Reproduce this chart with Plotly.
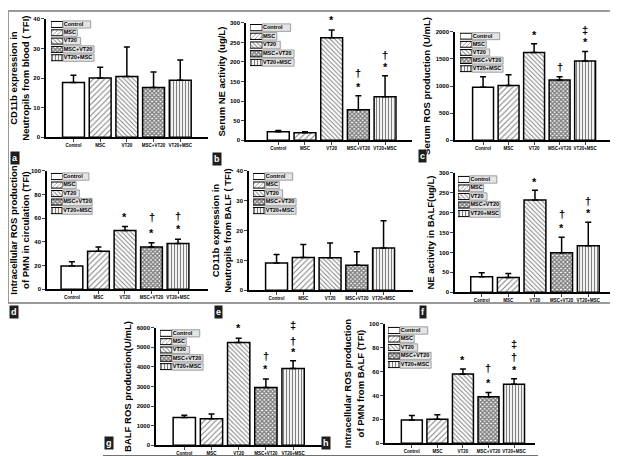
import plotly.graph_objects as go

W, H = 618, 456

categories = ["Control", "MSC", "VT20", "MSC+VT20", "VT20+MSC"]

# panel a: CD11b expression, blood
a_mean = [18.5, 20.0, 20.5, 16.8, 19.3]
a_err = [2.5, 3.7, 10.0, 5.3, 6.8]
a_ticks = [0, 10, 20, 30, 40]
a_sig_x, a_sig_y, a_sig_t = [], [], []

# panel b: serum NE activity
b_mean = [22, 19, 262, 78, 111]
b_err = [3, 3, 20, 36, 54]
b_ticks = [0, 50, 100, 150, 200, 250, 300]
b_sig_x = ["VT20", "MSC+VT20", "MSC+VT20", "VT20+MSC", "VT20+MSC"]
b_sig_y = [306, 137, 173, 186, 218]
b_sig_t = ["*", "*", "†", "*", "†"]

# panel c: serum ROS production
c_mean = [975, 1010, 1615, 1110, 1460]
c_err = [195, 195, 165, 60, 175]
c_ticks = [0, 500, 1000, 1500, 2000]
c_sig_x = ["VT20", "MSC+VT20", "VT20+MSC", "VT20+MSC"]
c_sig_y = [1939, 1350, 1805, 2030]
c_sig_t = ["*", "†", "*", "‡"]

# panel d: intracellular ROS, PMN in circulation
d_mean = [19.7, 32.2, 49.7, 35.8, 38.6]
d_err = [3.6, 3.6, 3.3, 3.6, 3.6]
d_ticks = [0, 20, 40, 60, 80, 100]
d_sig_x = ["VT20", "MSC+VT20", "MSC+VT20", "VT20+MSC", "VT20+MSC"]
d_sig_y = [60.8, 47.8, 60.8, 51.0, 62.0]
d_sig_t = ["*", "*", "†", "*", "†"]

# panel e: CD11b expression, BALF
e_mean = [9.1, 11.0, 10.9, 8.4, 14.2]
e_err = [2.9, 4.3, 4.9, 4.5, 9.1]
e_ticks = [0, 10, 20, 30, 40]
e_sig_x, e_sig_y, e_sig_t = [], [], []

# panel f: NE activity in BALF
f_mean = [39, 37, 232, 99, 117]
f_err = [10, 10, 24, 39, 59]
f_ticks = [0, 50, 100, 150, 200, 250, 300]
f_sig_x = ["VT20", "MSC+VT20", "MSC+VT20", "VT20+MSC", "VT20+MSC"]
f_sig_y = [278, 162, 196, 198, 230]
f_sig_t = ["*", "*", "†", "*", "†"]

# panel g: BALF ROS production
g_mean = [1417, 1350, 5250, 2950, 3917]
g_err = [116, 250, 217, 433, 400]
g_ticks = [0, 1000, 2000, 3000, 4000, 5000, 6000]
g_sig_x = ["VT20", "MSC+VT20", "MSC+VT20", "VT20+MSC", "VT20+MSC", "VT20+MSC"]
g_sig_y = [5967, 3917, 4550, 4767, 5333, 6133]
g_sig_t = ["*", "*", "†", "*", "†", "‡"]

# panel h: intracellular ROS, PMN from BALF
h_mean = [19.5, 20.0, 58.0, 38.9, 49.3]
h_err = [3.8, 3.8, 4.2, 3.6, 4.7]
h_ticks = [0, 20, 40, 60, 80, 100]
h_sig_x = ["VT20", "MSC+VT20", "MSC+VT20", "VT20+MSC", "VT20+MSC", "VT20+MSC"]
h_sig_y = [69.6, 50.4, 62.7, 61.6, 72.6, 83.3]
h_sig_t = ["*", "*", "†", "*", "†", "‡"]

titles = {
    "a": "CD11b expression in<br>Neutropils from blood ( TFI)",
    "b": "Serum NE activity (ug/L)",
    "c": "Serum ROS production (U/mL)",
    "d": "Intracellular ROS production<br>of PMN in circulation (TFI)",
    "e": "CD11b expression in<br>Neutropils from BALF ( TFI)",
    "f": "NE activity in BALF(ug/L)",
    "g": "BALF ROS production(U/mL)",
    "h": "Intracellular ROS production<br>of PMN from BALF (TFI)",
}

panels = [
    ("a", a_mean, a_err, a_ticks, a_sig_x, a_sig_y, a_sig_t),
    ("b", b_mean, b_err, b_ticks, b_sig_x, b_sig_y, b_sig_t),
    ("c", c_mean, c_err, c_ticks, c_sig_x, c_sig_y, c_sig_t),
    ("d", d_mean, d_err, d_ticks, d_sig_x, d_sig_y, d_sig_t),
    ("e", e_mean, e_err, e_ticks, e_sig_x, e_sig_y, e_sig_t),
    ("f", f_mean, f_err, f_ticks, f_sig_x, f_sig_y, f_sig_t),
    ("g", g_mean, g_err, g_ticks, g_sig_x, g_sig_y, g_sig_t),
    ("h", h_mean, h_err, h_ticks, h_sig_x, h_sig_y, h_sig_t),
]

# layout geometry (pixels): plot box left, right, top, bottom
plot_box = {
    "a": (38, 200, 8, 128), "b": (238, 404, 12, 131), "c": (447, 609, 21, 131),
    "d": (39, 200, 162, 282), "e": (241, 405, 162, 283), "f": (447, 612, 164, 285),
    "g": (148, 315, 321, 440), "h": (377, 527, 317, 438),
}
x_range = {
    "a": [-1.03, 5.04], "b": [-1.21, 5.01], "c": [-1.1, 5.25], "d": [-0.94, 5.13],
    "e": [-1.03, 5.1], "f": [-1.0, 5.19], "g": [-1.04, 5.1], "h": [-1.05, 4.82],
}
legend_box = {
    "a": (43, 88, 9, 52), "b": (242, 288, 12, 57), "c": (452, 497, 21, 63),
    "d": (43, 86, 163, 207), "e": (245, 290, 163, 207), "f": (450, 494, 166, 210),
    "g": (152, 197, 322, 365), "h": (380, 425, 319, 363),
}
letter_pos = {
    "a": (7, 149), "b": (209, 150), "c": (414, 147), "d": (6, 305),
    "e": (210, 305), "f": (415, 305), "g": (101, 438), "h": (318, 438),
}

shapes_pat = ["", "/", "\\", "x", "|"]
pat_size = [4, 4, 3.2, 3, 3]
pat_sol = [0.2, 0.25, 0.3, 0.7, 0.4]

FONT = "Liberation Sans, Arial, sans-serif"


def dx(l, r):
    return [l / W, r / W]


def dy(t, b):
    return [1 - b / H, 1 - t / H]


fig = go.Figure()
layout = dict(
    width=W, height=H, margin=dict(l=0, r=0, t=0, b=0),
    paper_bgcolor="white", plot_bgcolor="rgba(0,0,0,0)",
    barmode="overlay", showlegend=False,
    font=dict(family=FONT, color="black"),
)
annotations = []

for i, (key, mean, err, ticks, sx, sy, st) in enumerate(panels):
    n = i + 1
    xa, ya = ("x", "y") if n == 1 else (f"x{n}", f"y{n}")
    l, r, t, b = plot_box[key]
    top = ticks[-1]
    px_per_unit = (b - t) / top
    fig.add_trace(go.Bar(
        x=categories, y=mean, xaxis=xa, yaxis=ya, width=0.82,
        marker=dict(color="white", line=dict(color="black", width=1.5),
                    pattern=dict(shape=shapes_pat, fgcolor="black", bgcolor="white",
                                 size=pat_size, solidity=pat_sol)),
        error_y=dict(type="data", symmetric=False, array=err, arrayminus=[0] * 5,
                     color="black", thickness=1.5, width=3),
        hoverinfo="skip",
    ))
    for cx, cy, ct in zip(sx, sy, st):
        # marks above the axis top are anchored at the top and shifted by the excess
        anchor_y = min(cy, top)
        annotations.append(dict(
            x=cx, y=anchor_y, xref=xa, yref=ya, text=ct, showarrow=False,
            xanchor="center", yanchor="middle",
            yshift=(cy - anchor_y) * px_per_unit,
            font=dict(size=11, family=FONT, color="black", weight="bold"),
        ))
    sfx = "" if n == 1 else str(n)
    layout["xaxis" + sfx] = dict(
        domain=dx(l, r), anchor=ya, type="category", range=x_range[key],
        showline=True, linecolor="black", linewidth=1.5, ticks="outside",
        ticklen=3, tickwidth=1.2, showgrid=False, zeroline=False,
        tickfont=dict(size=4.5, family=FONT, weight="bold"), tickangle=0,
        fixedrange=True,
    )
    layout["yaxis" + sfx] = dict(
        domain=dy(t, b), anchor=xa, range=[0, top], tickvals=ticks,
        showline=True, linecolor="black", linewidth=1.5, ticks="outside",
        ticklen=3, tickwidth=1.2, showgrid=False, zeroline=False,
        tickfont=dict(size=6, family=FONT, weight="bold"),
        title=dict(text=titles[key], font=dict(size=9.5, family=FONT, weight="bold"), standoff=3),
        fixedrange=True,
    )

    # legend drawn as a small chart of its own
    m = n + 8
    lxa, lya = f"x{m}", f"y{m}"
    fig.add_trace(go.Bar(
        orientation="h", y=categories, x=[1] * 5, base=[0] * 5, xaxis=lxa, yaxis=lya,
        width=0.72,
        marker=dict(color="white", line=dict(color="black", width=1),
                    pattern=dict(shape=shapes_pat, fgcolor="black", bgcolor="white",
                                 size=[3] * 5, solidity=pat_sol)),
        hoverinfo="skip",
    ))
    fig.add_trace(go.Bar(
        orientation="h", y=categories, x=[0.28 * len(c) + 0.35 for c in categories],
        base=[1.0] * 5, xaxis=lxa, yaxis=lya, width=0.86,
        marker=dict(color="#e4e4e4", line=dict(color="#8a8a8a", width=0.8)),
        hoverinfo="skip",
    ))
    fig.add_trace(go.Scatter(
        y=categories, x=[1.06] * 5, text=categories, mode="text", xaxis=lxa, yaxis=lya,
        textposition="middle right",
        textfont=dict(size=5.5, family=FONT, color="black", weight="bold"),
        hoverinfo="skip",
    ))
    ll, lr, lt, lb = legend_box[key]
    layout[f"xaxis{m}"] = dict(domain=dx(ll, lr), anchor=lya, range=[0, 3.75],
                               visible=False, fixedrange=True)
    layout[f"yaxis{m}"] = dict(domain=dy(lt, lb), anchor=lxa, type="category",
                               range=[4.55, -0.55], visible=False, fixedrange=True)

    px, py = letter_pos[key]
    annotations.append(dict(
        x=px / W, y=1 - py / H, xref="paper", yref="paper", text=key, showarrow=False,
        font=dict(size=9, color="white", family=FONT, weight="bold"),
        bgcolor="#1e1e1e", borderpad=1, xanchor="center", yanchor="middle",
    ))

layout["annotations"] = annotations
layout["shapes"] = [
    dict(type="rect", xref="paper", yref="paper", x0=0, x1=1, y0=1 - 296 / H, y1=1,
         line=dict(color="#9a9a9a", width=2)),
    dict(type="line", xref="paper", yref="paper", x0=95 / W, x1=530 / W,
         y0=1 - 451 / H, y1=1 - 451 / H, line=dict(color="#707070", width=2)),
]
fig.update_layout(**layout)
fig.write_html("out.html")
